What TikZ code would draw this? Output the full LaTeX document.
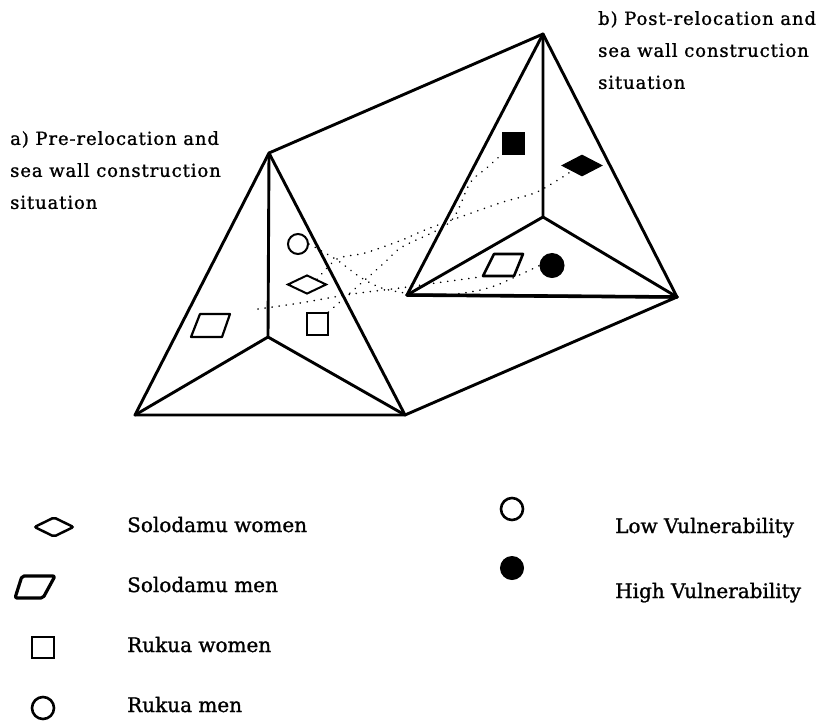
\documentclass[tikz,border=0pt]{standalone}
\usepackage{fontspec}
\setmainfont[FakeBold=1.2]{DejaVu Serif}
\newfontfamily\labfont[LetterSpace=5,FakeBold=1.2]{DejaVu Serif}
\newfontfamily\legfont[FakeBold=1.2]{DejaVu Serif}
\usetikzlibrary{shapes.geometric}
\begin{document}
\begin{tikzpicture}[x=1pt,y=-1pt,
  edge/.style={line width=2.9pt, line cap=round, line join=round},
  sym/.style={draw, line width=2pt, inner sep=0pt},
  fsym/.style={draw, fill=black, line width=1pt, inner sep=0pt},
  dotline/.style={line width=1.7pt, dash pattern=on 0.1pt off 7pt, line cap=round},
  lab/.style={anchor=north west, align=left, inner sep=0pt, font=\labfont\fontsize{18}{32}\selectfont},
  leg/.style={anchor=base west, inner sep=0pt, font=\legfont\fontsize{20}{24}\selectfont}]
\useasboundingbox (0,0) rectangle (824,721);
\fill[white] (0,0) rectangle (824,721);

% prism corners
\coordinate (A1) at (269,153);
\coordinate (BL1) at (135,415);
\coordinate (BR1) at (405,415);
\coordinate (C1) at (268,337);
\coordinate (A2) at (543,34);
\coordinate (BL2) at (407,295);
\coordinate (BR2) at (677,297);
\coordinate (C2) at (543,217);

% left face
\draw[edge] (A1) -- (BL1) -- (BR1) -- cycle;
\draw[edge] (A1) -- (C1) (C1) -- (BL1) (C1) -- (BR1);
% right face
\draw[edge] (A2) -- (BL2) -- (BR2) -- cycle;
\draw[edge] (A2) -- (C2) (C2) -- (BL2) (C2) -- (BR2);
\draw[edge, line width=3.6pt] (BL2) -- (BR2);
% long edges
\draw[edge] (A1) -- (A2);
\draw[edge] (BR1) -- (BR2);

% labels
\node[lab] (la) at (10,131) {a) Pre-relocation and\\sea wall construction\\situation};
\node[lab] (lb) at (598,11) {b) Post-relocation and\\sea wall construction\\situation};

% left symbols
\node[sym, circle, minimum size=20pt] (lc) at (298,244) {};
\node[sym, diamond, minimum width=39pt, minimum height=19pt] (ld) at (307,284.5) {};
\node[sym, rectangle, minimum width=21pt, minimum height=22pt] (ls) at (317,324) {};
\coordinate (lp) at (211,325.5);
\draw[line width=2.2pt, line join=round, shift={(lp)}] (-20,11.5) -- (-11,-11.5) -- (19,-11.5) -- (11,11.5) -- cycle;

% right symbols
\node[fsym, rectangle, minimum width=22pt, minimum height=22pt] (rs) at (513,143) {};
\node[fsym, diamond, minimum width=40pt, minimum height=21pt] (rd) at (582,165.5) {};
\node[fsym, circle, minimum size=24pt] (rc) at (552,265.5) {};
\coordinate (rp) at (503,265);
\draw[line width=2.6pt, line join=round, shift={(rp)}] (-20,11) -- (-9,-11) -- (20,-11) -- (11,11) -- cycle;

% dotted links
\draw[dotline] plot[smooth] coordinates {(lc.east) (337,260) (360,277) (385,289) (430,296) (470,292) (497,285) (rc.west)};
\draw[dotline] plot[smooth] coordinates {(ld.north east) (337,259) (365,253) (402,240) (430,228) (500,203) (537,192) (rd.south west)};
\draw[dotline] plot[smooth] coordinates {(ls.north east) (383,264) (402,247) (450,222) (470,183) (488,167) (rs.south west)};
\draw[dotline] plot[smooth] coordinates {(258,309) (300,303) (352,294) (400,288) (443,282) (480,277)};

% legend symbols
\node[sym, diamond, line width=2.5pt, rounded corners=2pt, minimum width=40pt, minimum height=20pt] (gd) at (54,527) {};
\coordinate (gp) at (35,587);
\draw[line width=3.2pt, line join=round, rounded corners=2pt, shift={(gp)}] (-20,11) -- (-13,-11) -- (20,-11) -- (8,11) -- cycle;
\node[sym, rectangle, line width=2.2pt, minimum width=22pt, minimum height=21pt] (gs) at (43,647.5) {};
\node[sym, circle, line width=2.6pt, minimum size=22pt] (gc) at (43,708) {};
\node[sym, circle, line width=2.6pt, minimum size=22pt] (gl) at (512,509) {};
\node[fsym, circle, minimum size=23pt] (gh) at (512,568) {};

% legend texts
\node[leg] (t1) at (127,532) {Solodamu women};
\node[leg] (t2) at (127,592) {Solodamu men};
\node[leg] (t3) at (127,652) {Rukua women};
\node[leg] (t4) at (127,712) {Rukua men};
\node[leg] (t5) at (615,533) {Low Vulnerability};
\node[leg] (t6) at (615,598) {High Vulnerability};
\end{tikzpicture}
\end{document}
